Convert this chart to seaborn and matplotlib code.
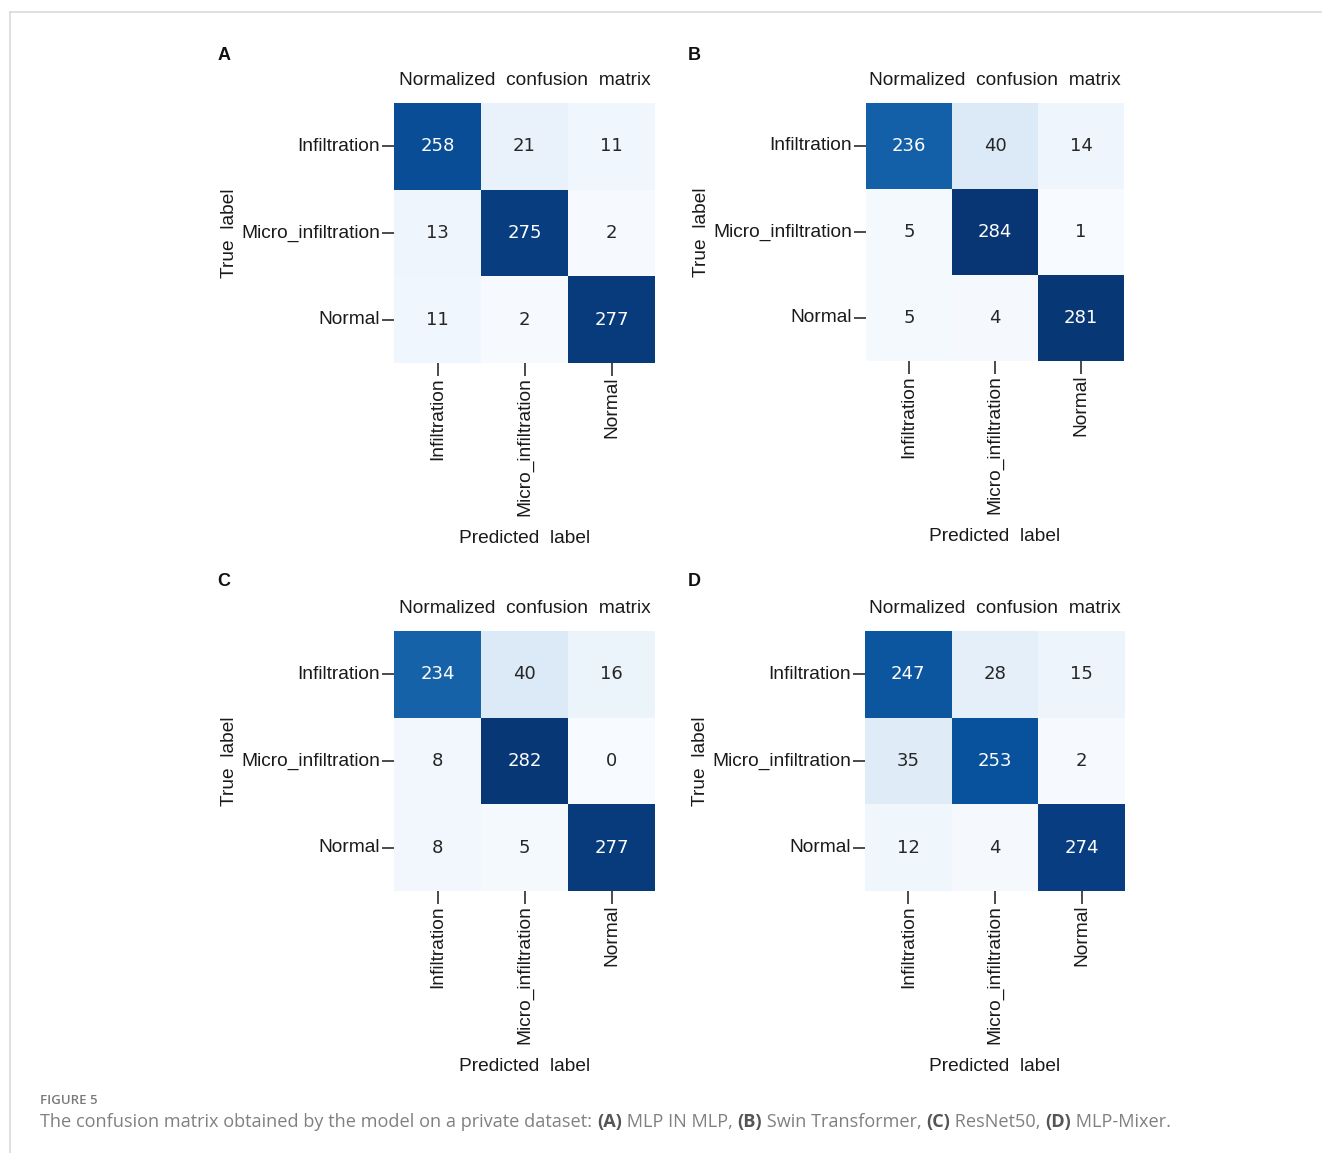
import numpy as np
import pandas as pd
import matplotlib
matplotlib.use("Agg")
import matplotlib.pyplot as plt
from matplotlib.lines import Line2D
import seaborn as sns

# Class names and raw counts for each model
classes = ["Infiltration", "Micro_infiltration", "Normal"]
cm_mlp_in_mlp = [[258, 21, 11], [13, 275, 2], [11, 2, 277]]
cm_swin = [[236, 40, 14], [5, 284, 1], [5, 4, 281]]
cm_resnet50 = [[234, 40, 16], [8, 282, 0], [8, 5, 277]]
cm_mlp_mixer = [[247, 28, 15], [35, 253, 2], [12, 4, 274]]
panel_letters = ["A", "B", "C", "D"]
model_names = ["MLP IN MLP", "Swin Transformer", "ResNet50", "MLP-Mixer"]

W, H = 1322, 1153
fig = plt.figure(figsize=(W / 100, H / 100), dpi=100)
fig.patch.set_facecolor("white")

plt.rcParams["font.family"] = ["Liberation Sans", "DejaVu Sans"]
label_font = ["Liberation Sans", "DejaVu Sans"]
ink = "#1a1a1a"

# heatmap boxes in pixel coordinates (left, top, right, bottom)
boxes = [(394, 103, 655, 363), (866, 103, 1124, 361),
         (394, 631, 655, 891), (865, 631, 1125, 891)]
letter_pos = [(224, 55), (694, 55), (224, 582), (694, 582)]

matrices = [cm_mlp_in_mlp, cm_swin, cm_resnet50, cm_mlp_mixer]
for cm, box, letter, lpos in zip(matrices, boxes, panel_letters, letter_pos):
    l, t, r, b = box
    ax = fig.add_axes([l / W, 1 - b / H, (r - l) / W, (b - t) / H])
    counts = pd.DataFrame(cm, index=classes, columns=classes)
    normed = counts.div(counts.sum(axis=1), axis=0)
    sns.heatmap(normed, annot=counts, fmt="d", cmap="Blues", vmin=0, vmax=1,
                cbar=False, ax=ax, linewidths=0,
                annot_kws={"fontsize": 13, "family": "DejaVu Sans"})
    ax.set_title("Normalized  confusion  matrix", fontsize=13.8, pad=13,
                 color=ink, family=label_font)
    ax.set_xlabel("Predicted  label", fontsize=13.8, color=ink, labelpad=10,
                  family=label_font)
    ax.set_ylabel("True  label", fontsize=13.8, color=ink, labelpad=2,
                  family=label_font)
    ax.tick_params(axis="both", length=9, width=1.1, pad=1, labelsize=13.8,
                   colors=ink)
    ax.set_xticklabels(classes, rotation=90, family=label_font)
    ax.set_yticklabels(classes, rotation=0, family=label_font)
    fig.text(lpos[0] / W, 1 - lpos[1] / H, letter, fontsize=13,
             fontweight="bold", ha="center", va="center", color="#111111",
             family=label_font)

# outer frame lines
fig.add_artist(Line2D([10 / W, 1.0], [1 - 12 / H, 1 - 12 / H],
                      color="#d9d9d9", lw=1.2, transform=fig.transFigure))
fig.add_artist(Line2D([10 / W, 10 / W], [1 - 12 / H, 0.0],
                      color="#d9d9d9", lw=1.2, transform=fig.transFigure))

# caption
cap_font = ["Open Sans", "DejaVu Sans"]
fig.text(40 / W, 1 - 1100 / H, "FIGURE 5", fontsize=9.5, color="#7a7a7a",
         fontweight="semibold", family=cap_font, ha="left", va="center")

pieces = [("The confusion matrix obtained by the model on a private dataset: ", False)]
for i, (letter, name) in enumerate(zip(panel_letters, model_names)):
    pieces.append((f"({letter})", True))
    end = "." if i == len(model_names) - 1 else ", "
    pieces.append((f" {name}{end}", False))

renderer = fig.canvas.get_renderer()
x = 40
y = 1 - 1122 / H
for txt, bold in pieces:
    t = fig.text(x / W, y, txt, fontsize=13.1, family=cap_font,
                 color="#555555" if bold else "#808080",
                 fontweight="bold" if bold else "normal",
                 ha="left", va="center")
    x += t.get_window_extent(renderer=renderer).width

fig.savefig("out.png", dpi=100, facecolor="white")
